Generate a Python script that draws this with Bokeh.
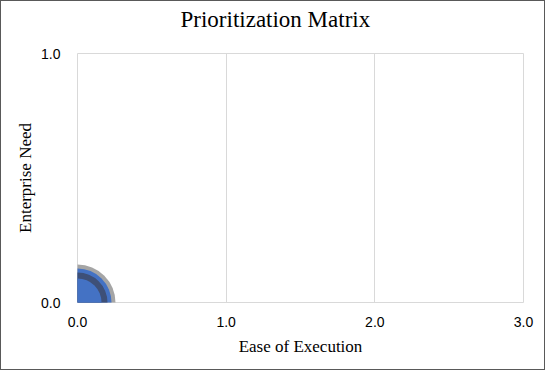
from bokeh.plotting import figure
from bokeh.models import Range1d, FixedTicker, Title
from bokeh.embed import file_html
from bokeh.resources import INLINE

# data
bubble_x = [0.0, 0.0, 0.0, 0.0]
bubble_y = [0.0, 0.0, 0.0, 0.0]
bubble_size = [38, 34, 30, 24]
bubble_color = ["#A5A5A5", "#4472C4", "#3E5078", "#4472C4"]
x_ticks = [0, 1, 2, 3]
x_tick_labels = ["0.0", "1.0", "2.0", "3.0"]
y_ticks = [0, 1]
y_tick_labels = ["0.0", "1.0"]
title_text = "Prioritization Matrix"
x_title = "Ease of Execution"
y_title = "Enterprise Need"

p = figure(width=545, height=370, output_backend="svg", toolbar_location=None,
           x_range=Range1d(0, 3), y_range=Range1d(0, 1),
           min_border_left=76, min_border_right=23, min_border_top=52, min_border_bottom=69)
p.styles = {"border": "1px solid #595959", "box-sizing": "border-box"}
p.outline_line_color = "#D9D9D9"
p.outline_line_width = 1
p.background_fill_color = "white"
p.border_fill_color = "white"

for xi, yi, s, c in zip(bubble_x, bubble_y, bubble_size, bubble_color):
    p.circle(x=[xi], y=[yi], radius=s, radius_units="screen", fill_color=c, line_color=None)

for ax, ticks, labels in ((p.xaxis[0], x_ticks, x_tick_labels), (p.yaxis[0], y_ticks, y_tick_labels)):
    ax.ticker = FixedTicker(ticks=ticks)
    ax.major_label_overrides = {t: l for t, l in zip(ticks, labels)}
    ax.major_tick_line_color = None
    ax.minor_tick_line_color = None
    ax.major_tick_out = 0
    ax.major_tick_in = 0
    ax.minor_tick_out = 0
    ax.minor_tick_in = 0
    ax.axis_line_color = None
    ax.major_label_text_font = "Liberation Sans"
    ax.major_label_text_font_size = "14px"
    ax.major_label_text_color = "#000000"
    ax.axis_label_text_font = "Liberation Serif"
    ax.axis_label_text_font_size = "17px"
    ax.axis_label_text_font_style = "normal"
    ax.axis_label_text_color = "#000000"

p.xaxis.axis_label = x_title
p.yaxis.axis_label = y_title
p.xaxis.major_label_standoff = 14
p.yaxis.major_label_standoff = 17
p.xaxis.axis_label_standoff = 7
p.yaxis.axis_label_standoff = 3

p.xgrid.ticker = FixedTicker(ticks=x_ticks)
p.ygrid.ticker = FixedTicker(ticks=y_ticks)
p.grid.grid_line_color = "#D9D9D9"
p.grid.grid_line_width = 1

# spacer panel between frame and title
p.add_layout(Title(text=" ", text_font_size="1px", standoff=17), "above")
p.title = Title(text=title_text, align="left", offset=103, standoff=0, vertical_align="top",
                text_font="Liberation Serif", text_font_size="23px",
                text_font_style="normal", text_color="#000000")

open("out.html", "w").write(file_html(p, INLINE))
